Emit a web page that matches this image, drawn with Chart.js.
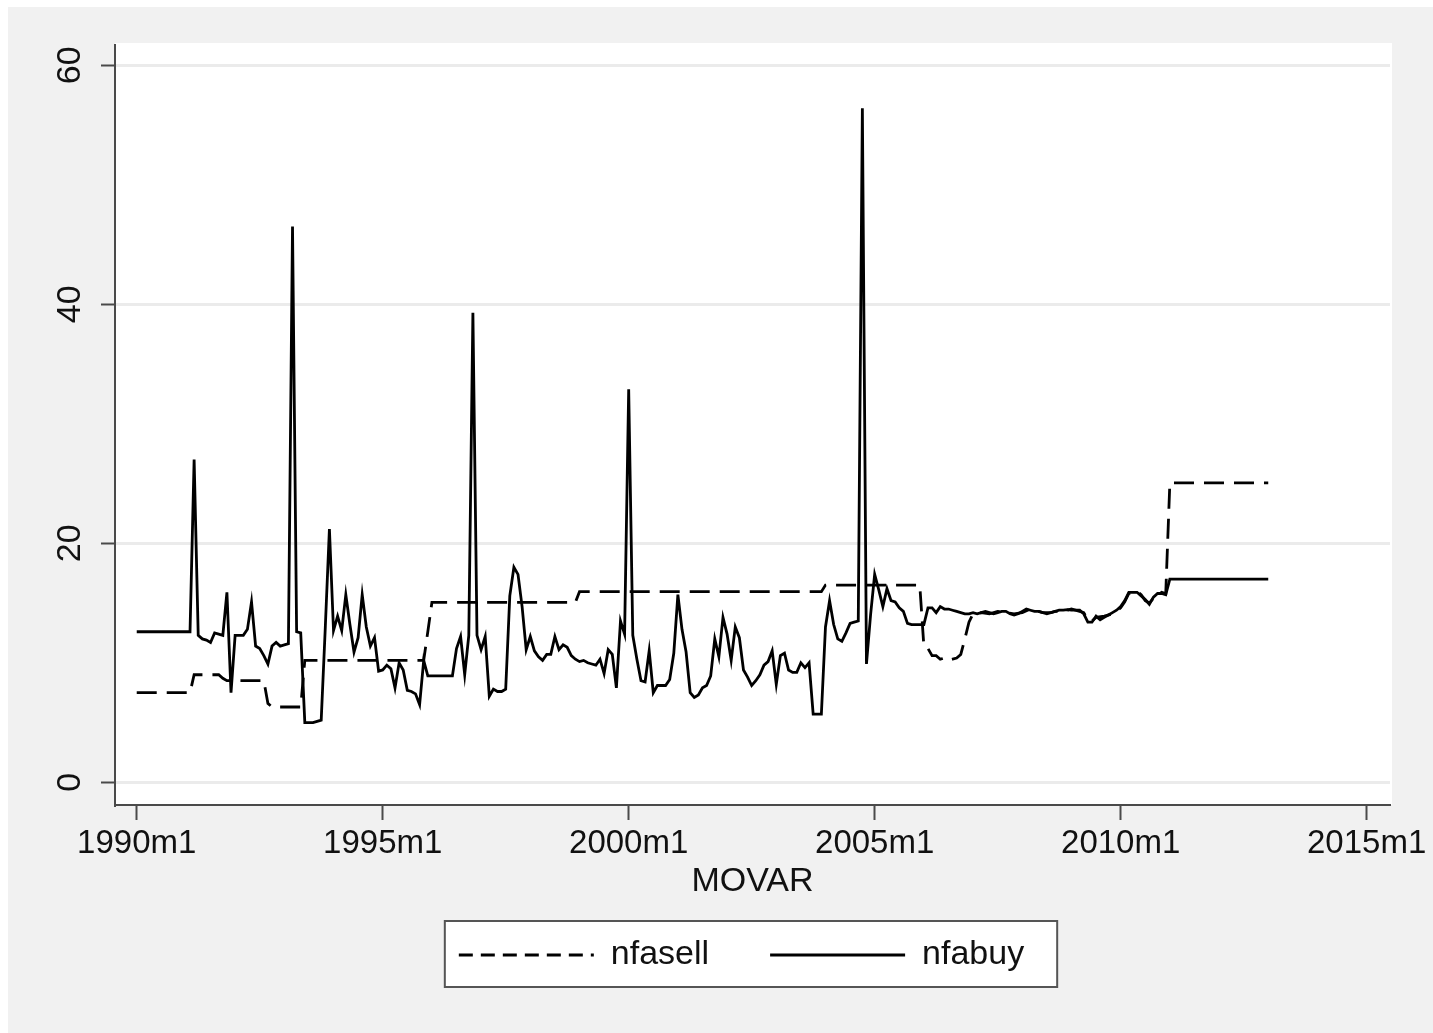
<!DOCTYPE html>
<html>
<head>
<meta charset="utf-8">
<title>nfasell / nfabuy</title>
<script src="https://cdn.jsdelivr.net/npm/chart.js@4.4.1/dist/chart.umd.min.js"></script>
<style>
  html, body { margin: 0; padding: 0; background: #fff; }
  #frame { position: absolute; left: 8px; top: 7px; width: 1425px; height: 1026px; background: #f1f1f1; }
  #wrap { position: absolute; left: 0; top: 0; width: 1433px; height: 1033px; }
</style>
</head>
<body>
<div id="frame"></div>
<div id="wrap"><canvas id="chart" width="1433" height="1033"></canvas></div>
<script>
// months counted from 1990m1
const xTickValues = [0, 60, 120, 180, 240, 300];
const xTickLabels = ["1990m1", "1995m1", "2000m1", "2005m1", "2010m1", "2015m1"];
const yTickValues = [0, 20, 40, 60];

const buyMonths = [
  0, 13,
  14, 15, 16, 17, 18, 19, 20, 21, 22, 23,
  24, 25, 26, 27, 28, 29, 30, 31, 32, 33,
  34, 35, 36, 37, 38, 39, 40, 41, 42, 43,
  44, 45, 46, 47, 48, 49, 50, 51, 52, 53,
  54, 55, 56, 57, 58, 59, 60, 61, 62, 63,
  64, 65, 66, 67, 68, 69, 70, 71, 72, 73,
  74, 75, 76, 77, 78, 79, 80, 81, 82, 83,
  84, 85, 86, 87, 88, 89, 90, 91, 92, 93,
  94, 95, 96, 97, 98, 99, 100, 101, 102, 103,
  104, 105, 106, 107, 108, 109, 110, 111, 112, 113,
  114, 115, 116, 117, 118, 119, 120, 121, 122, 123,
  124, 125, 126, 127, 128, 129, 130, 131, 132, 133,
  134, 135, 136, 137, 138, 139, 140, 141, 142, 143,
  144, 145, 146, 147, 148, 149, 150, 151, 152, 153,
  154, 155, 156, 157, 158, 159, 160, 161, 162, 163,
  164, 165, 166, 167, 168, 169, 170, 171, 172, 173,
  174, 175, 176, 177, 178, 179, 180, 181, 182, 183,
  184, 185, 186, 187, 188, 189, 190, 191, 192, 193,
  194, 195, 196, 197, 198, 199, 200, 201, 202, 203,
  204, 205, 206, 207, 208, 209, 210, 211, 212, 213,
  214, 215, 216, 217, 218, 219, 220, 221, 222, 223,
  224, 225, 226, 227, 228, 229, 230, 231, 232, 233,
  234, 235, 236, 237, 238, 239, 240, 241, 242, 243,
  244, 245, 246, 247, 248, 249, 250, 251,
  252, 276
];
const buyValues = [
  12.6, 12.6,
  27.0, 12.3, 12.0, 11.9, 11.7, 12.5, 12.4, 12.3, 15.9, 7.5,
  12.3, 12.3, 12.3, 12.8, 15.1, 11.4, 11.2, 10.6, 9.9, 11.4,
  11.7, 11.4, 11.5, 11.6, 46.5, 12.6, 12.5, 5.0, 5.0, 5.0,
  5.1, 5.2, 13.0, 21.2, 12.7, 13.9, 12.7, 15.7, 13.2, 10.9,
  12.1, 15.7, 13.0, 11.4, 12.1, 9.3, 9.4, 9.8, 9.5, 7.9,
  10.0, 9.4, 7.7, 7.6, 7.4, 6.5, 10.2, 8.9, 8.9, 8.9,
  8.9, 8.9, 8.9, 8.9, 11.2, 12.2, 9.0, 12.3, 39.3, 12.3,
  11.1, 12.2, 7.2, 7.8, 7.6, 7.6, 7.8, 15.6, 18.0, 17.4,
  14.7, 11.1, 12.2, 11.0, 10.5, 10.2, 10.7, 10.7, 12.2, 11.1,
  11.5, 11.3, 10.6, 10.3, 10.1, 10.2, 10.0, 9.9, 9.8, 10.3,
  9.1, 11.1, 10.7, 7.9, 13.5, 12.4, 32.9, 12.3, 10.3, 8.5,
  8.4, 11.0, 7.5, 8.1, 8.1, 8.1, 8.6, 10.8, 15.7, 12.8,
  10.9, 7.5, 7.1, 7.3, 7.9, 8.1, 8.9, 12.0, 10.5, 13.8,
  12.4, 10.2, 13.0, 12.1, 9.4, 8.8, 8.1, 8.5, 9.0, 9.8,
  10.1, 11.0, 8.2, 10.6, 10.8, 9.4, 9.2, 9.2, 10.0, 9.6,
  10.0, 5.7, 5.7, 5.7, 13.0, 15.2, 13.2, 12.0, 11.8, 12.5,
  13.3, 13.4, 13.5, 56.4, 9.9, 14.0, 17.4, 16.1, 14.7, 16.2,
  15.2, 15.1, 14.6, 14.3, 13.3, 13.2, 13.2, 13.2, 13.2, 14.6,
  14.6, 14.2, 14.7, 14.5, 14.5, 14.4, 14.3, 14.2, 14.1, 14.1,
  14.2, 14.1, 14.2, 14.3, 14.2, 14.1, 14.2, 14.3, 14.3, 14.1,
  14.0, 14.1, 14.3, 14.5, 14.4, 14.3, 14.3, 14.2, 14.2, 14.2,
  14.3, 14.4, 14.4, 14.45, 14.4, 14.4, 14.4, 14.1, 13.4, 13.4,
  13.9, 13.6, 13.8, 14.0, 14.2, 14.4, 14.7, 15.2, 15.9, 15.9,
  15.9, 15.6, 15.3, 14.9, 15.5, 15.8, 15.8, 15.7,
  17.0, 17.0
];

const sellMonths = [
  0, 13, 14, 20, 21, 22, 31, 32, 33, 40,
  41, 70, 71, 72, 107, 108, 167, 168, 191, 192,
  193, 194, 195, 196, 197, 198, 199, 200, 201, 202, 203, 204,
  206, 208, 210, 212, 214, 216, 218, 220, 222, 224,
  226, 228, 230, 231, 232, 233, 234, 236, 238, 240,
  241, 242, 244, 245, 246, 247, 248, 250, 251, 252,
  276
];
const sellValues = [
  7.5, 7.5, 9.0, 9.0, 8.7, 8.5, 8.5, 6.6, 6.3, 6.3,
  10.2, 10.2, 12.6, 15.05, 15.05, 15.95, 15.95, 16.5, 16.5, 11.4,
  11.2, 10.6, 10.6, 10.3, 10.4, 10.2, 10.3, 10.4, 10.7, 12.0, 13.4, 14.1,
  14.2, 14.1, 14.3, 14.2, 14.1, 14.2, 14.5, 14.3, 14.1, 14.3,
  14.3, 14.5, 14.3, 14.2, 13.6, 13.5, 13.8, 13.9, 14.1, 14.6,
  15.1, 15.8, 16.0, 15.7, 15.2, 15.0, 15.4, 15.9, 15.8, 25.05,
  25.05
];

const lineDash = [20, 10];
const legendDash = [14, 8];

const toPoints = (months, values) => months.map((m, i) => ({ x: m, y: values[i] }));

// white plot region + framed legend, like the Stata graph
const plotBackground = {
  id: "plotBackground",
  beforeDraw(chart) {
    const { ctx, chartArea } = chart;
    ctx.save();
    ctx.fillStyle = "#ffffff";
    ctx.fillRect(chartArea.left, chartArea.top - 2, chartArea.right - chartArea.left + 2, chartArea.bottom - chartArea.top + 2);
    ctx.restore();
  },
};

const legendFrame = {
  id: "legendFrame",
  beforeDraw(chart) {
    const boxes = chart.legend && chart.legend.legendHitBoxes;
    if (!boxes || !boxes.length) return;
    const first = boxes[0];
    const last = boxes[boxes.length - 1];
    const left = first.left - 14;
    const right = last.left + last.width + 33;
    const mid = first.top + first.height / 2;
    const { ctx } = chart;
    ctx.save();
    ctx.fillStyle = "#ffffff";
    ctx.strokeStyle = "#555555";
    ctx.lineWidth = 2;
    ctx.fillRect(left, mid - 34, right - left, 66);
    ctx.strokeRect(left, mid - 34, right - left, 66);
    ctx.restore();
  },
};

Chart.defaults.font.family = '"Liberation Sans", Arial, Helvetica, sans-serif';
Chart.defaults.color = "#111111";

const axisColor = "#4a4a4a";

new Chart(document.getElementById("chart"), {
  type: "line",
  data: {
    datasets: [
      {
        label: "nfasell",
        data: toPoints(sellMonths, sellValues),
        borderColor: "#000000",
        borderWidth: 2.8,
        borderDash: lineDash,
        pointRadius: 0,
        tension: 0,
        fill: false,
      },
      {
        label: "nfabuy",
        data: toPoints(buyMonths, buyValues),
        borderColor: "#000000",
        borderWidth: 2.8,
        pointRadius: 0,
        tension: 0,
        fill: false,
      },
    ],
  },
  options: {
    responsive: false,
    animation: false,
    devicePixelRatio: 1,
    events: [],
    layout: { padding: { left: 50, right: 0, top: 45, bottom: 51 } },
    scales: {
      x: {
        type: "linear",
        min: -5.3,
        max: 305.7,
        afterBuildTicks: (scale) => {
          scale.ticks = xTickValues.map((v) => ({ value: v }));
        },
        afterFit: (scale) => {
          scale.height = 72;
          scale.paddingLeft = 0;
          scale.paddingRight = 43;
        },
        ticks: {
          callback: (value, index) => xTickLabels[index],
          font: { size: 33 },
          color: "#111111",
          padding: 4,
          minRotation: 0,
          maxRotation: 0,
          autoSkip: false,
        },
        grid: { drawOnChartArea: false, tickLength: 15, tickColor: axisColor, tickWidth: 2 },
        border: { color: axisColor, width: 2 },
        title: {
          display: true,
          text: "MOVAR",
          font: { size: 34 },
          color: "#111111",
          padding: { top: 0, bottom: -25 },
        },
      },
      y: {
        min: -1.9,
        max: 61.7,
        afterBuildTicks: (scale) => {
          scale.ticks = yTickValues.map((v) => ({ value: v }));
        },
        afterFit: (scale) => {
          scale.width = 65;
          scale.paddingTop = 0;
          scale.paddingBottom = 0;
        },
        ticks: {
          font: { size: 34 },
          color: "#111111",
          padding: 11,
          minRotation: 90,
          maxRotation: 90,
          crossAlign: "center",
        },
        grid: { color: "#ebebeb", lineWidth: 3, tickColor: axisColor, tickWidth: 2, tickLength: 14 },
        border: { color: axisColor, width: 2 },
      },
    },
    plugins: {
      legend: {
        position: "bottom",
        labels: {
          usePointStyle: true,
          pointStyle: "line",
          pointStyleWidth: 135,
          font: { size: 34 },
          color: "#111111",
          padding: 61,
          generateLabels: (chart) =>
            Chart.defaults.plugins.legend.labels.generateLabels(chart).map((item) =>
              Object.assign(item, {
                lineDash: chart.data.datasets[item.datasetIndex].borderDash ? legendDash : [],
                lineWidth: 2.8,
                strokeStyle: "#000000",
              })
            ),
        },
      },
      tooltip: { enabled: false },
    },
  },
  plugins: [plotBackground, legendFrame],
});
</script>
</body>
</html>
